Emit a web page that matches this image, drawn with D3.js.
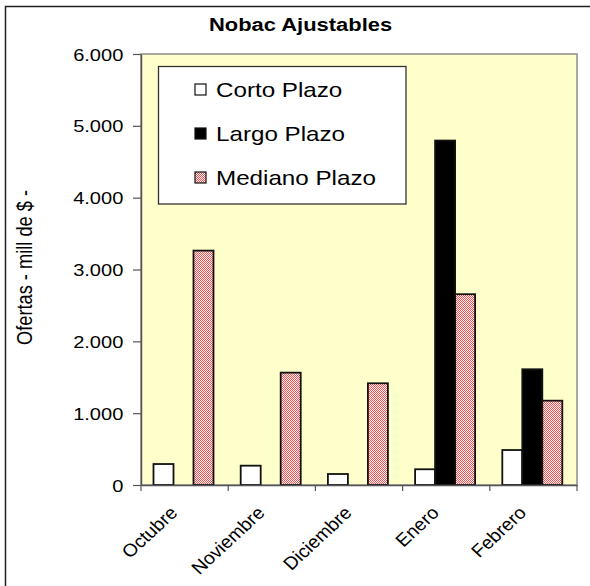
<!DOCTYPE html>
<html><head><meta charset="utf-8">
<script src="https://cdn.jsdelivr.net/npm/d3@7"></script>
<style>body{margin:0;background:#fff}svg{display:block;font-family:"Liberation Sans",Arial,sans-serif}</style>
</head><body><svg id="c" width="590" height="586"></svg>
<script>
const months = ["Octubre","Noviembre","Diciembre","Enero","Febrero"];
const seriesNames = ["Corto Plazo","Largo Plazo","Mediano Plazo"];
const corto = [292,269,153,219,487];
const largo = [null,null,null,4795,1611];
const mediano = [3263,1564,1416,2656,1174];
const yTicks = [0,1000,2000,3000,4000,5000,6000];
const title = "Nobac Ajustables";
const yLabel = "Ofertas - mill de $ -";

const SX = 1.18;
const svg = d3.select("#c");
const plot = {l:141, r:577, t:54, b:485};

const defs = svg.append("defs");
const pat = defs.append("pattern").attr("id","chk").attr("width",2).attr("height",2)
  .attr("patternUnits","userSpaceOnUse");
pat.append("rect").attr("width",2).attr("height",2).attr("fill","#ffffff");
pat.append("rect").attr("width",1).attr("height",1).attr("fill","#ff4848");
pat.append("rect").attr("x",1).attr("y",1).attr("width",1).attr("height",1).attr("fill","#ff4848");

// outer chart border
svg.append("rect").attr("x",5.5).attr("y",6.5).attr("width",600).attr("height",600)
  .attr("fill","#fff").attr("stroke","#222").attr("stroke-width",1.5);

// title
svg.append("text").attr("transform",`translate(300.5,30.5) scale(1.155,1)`)
  .attr("text-anchor","middle").attr("font-size",19).attr("font-weight","bold").attr("fill","#000").text(title);

const x = d3.scaleBand().domain(months).range([plot.l, plot.r]).padding(0);
const xs = d3.scaleBand().domain(seriesNames).range([12.5, 72.5]).padding(0);
const y = d3.scaleLinear().domain([0,6000]).range([plot.b, plot.t]);
const loc = d3.formatLocale({decimal:",", thousands:".", grouping:[3], currency:["$",""]});
const fmt = loc.format(",");

// plot area
svg.append("rect").attr("x",plot.l).attr("y",plot.t).attr("width",plot.r-plot.l).attr("height",plot.b-plot.t)
  .attr("fill","#ffffcc").attr("stroke","#8c8c8c").attr("stroke-width",1.5);

// bars
const data = [
  {name:seriesNames[0], vals:corto, fill:"#ffffff"},
  {name:seriesNames[1], vals:largo, fill:"#000000"},
  {name:seriesNames[2], vals:mediano, fill:"url(#chk)"}
];
data.forEach(s=>{
  svg.append("g").selectAll("rect").data(months.map((m,i)=>({m,v:s.vals[i]})).filter(d=>d.v!=null))
    .join("rect")
    .attr("x",d=>x(d.m)+xs(s.name))
    .attr("y",d=>y(d.v))
    .attr("width",xs.bandwidth())
    .attr("height",d=>y(0)-y(d.v))
    .attr("fill",s.fill).attr("stroke","#111").attr("stroke-width",1.8);
});

// y axis
const ya = svg.append("g").attr("transform",`translate(${plot.l},0)`)
  .call(d3.axisLeft(y).tickValues(yTicks).tickFormat(fmt).tickSize(8).tickSizeOuter(0).tickPadding(0));
ya.select(".domain").attr("stroke","#555").attr("stroke-width",1.5);
ya.selectAll(".tick line").attr("stroke","#555").attr("stroke-width",1.2);
ya.selectAll(".tick text").attr("x",null).attr("dy","0.36em")
  .attr("transform",`translate(-17.7,0) scale(${SX},1)`)
  .attr("font-size",17).attr("fill","#000").attr("font-family","Liberation Sans, Arial, sans-serif");

// x axis
const xa = svg.append("g").attr("transform",`translate(0,${plot.b})`)
  .call(d3.axisBottom(x).tickSize(0).tickFormat(""));
xa.select(".domain").attr("stroke","#555").attr("stroke-width",1.5);
xa.selectAll(".tick").remove();
xa.selectAll(".bt").data(months.concat(["_end"])).join("line").attr("class","bt")
  .attr("x1",(d,i)=> i<months.length ? x(d) : plot.r).attr("x2",(d,i)=> i<months.length ? x(d) : plot.r)
  .attr("y1",0).attr("y2",6).attr("stroke","#555").attr("stroke-width",1.2);
svg.append("g").selectAll("text").data(months).join("text")
  .attr("transform",d=>`translate(${x(d)+x.bandwidth()/2-6},514) scale(1.08,1) rotate(-45)`)
  .attr("text-anchor","end").attr("font-size",18).attr("fill","#000").text(d=>d);

// y label
svg.append("text").attr("transform",`translate(31.5,267.5) scale(${SX},1) rotate(-90)`)
  .attr("text-anchor","middle").attr("font-size",18.5).attr("fill","#000")
  .attr("textLength",155).attr("lengthAdjust","spacingAndGlyphs").text(yLabel);

// legend
const lg = svg.append("g");
lg.append("rect").attr("x",158.5).attr("y",66.5).attr("width",247.5).attr("height",137.5)
  .attr("fill","#fff").attr("stroke","#333").attr("stroke-width",1.3);
const rowsY = [90,134,178];
data.forEach((s,i)=>{
  lg.append("rect").attr("x",195).attr("y",rowsY[i]-6).attr("width",11).attr("height",11)
    .attr("fill",s.fill).attr("stroke","#111").attr("stroke-width",1.2);
  lg.append("text").attr("transform",`translate(216,${rowsY[i]+7}) scale(${SX},1)`)
    .attr("font-size",20.5).attr("fill","#000").text(s.name);
});
</script></body></html>
